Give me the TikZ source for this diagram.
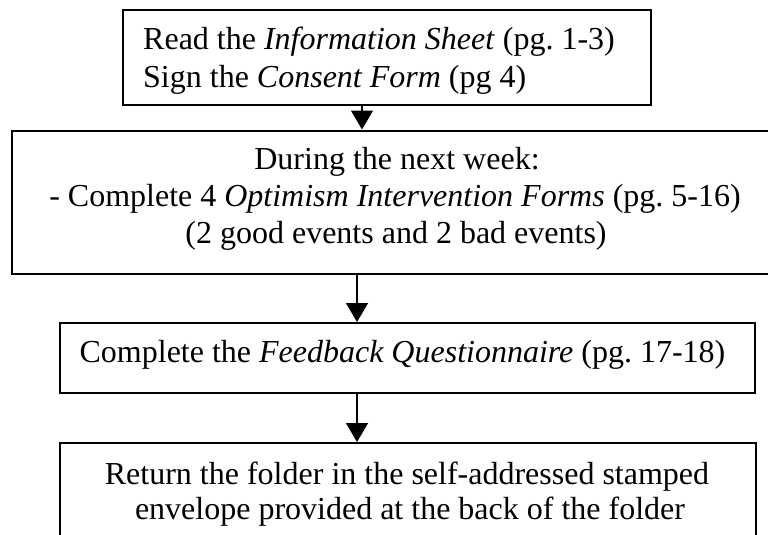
\documentclass[tikz,border=0pt]{standalone}
\usepackage{fontspec}
\setmainfont{Liberation Serif}
\frenchspacing
\usetikzlibrary{arrows.meta}
\tikzset{
  stepbox/.style={draw=black, line width=2pt, rectangle, inner sep=0pt},
  steptext/.style={inner sep=0pt, font=\fontsize{32}{37}\selectfont},
  flow/.style={draw=black, line width=1.3pt, -{Triangle[width=22pt,length=19pt]}}
}
\begin{document}
\begin{tikzpicture}[x=1pt,y=-1pt]
\useasboundingbox (0,0) rectangle (768,535);

% frames of the four steps (the second and fourth run past the page edge)
\node[stepbox, minimum width=528pt, minimum height=95pt] (b1) at (387,57.5) {};
\node[stepbox, minimum width=766pt, minimum height=143.5pt] (b2) at (395,202.25) {};
\node[stepbox, minimum width=695pt, minimum height=70pt] (b3) at (407.5,358) {};
\node[stepbox, minimum width=696pt, minimum height=117pt] (b4) at (408,501.5) {};

% step 1
\node[steptext, anchor=base west] (t1a) at (143,50) {Read the \textit{Information Sheet} (pg. 1-3)};
\node[steptext, anchor=base west] (t1b) at (143,87) {Sign the \textit{Consent Form} (pg 4)};

% step 2
\node[steptext, anchor=base] (t2a) at (397,169) {During the next week:};
\node[steptext, anchor=base] (t2b) at (395,206) {- Complete 4 \textit{Optimism Intervention Forms} (pg. 5-16)};
\node[steptext, anchor=base] (t2c) at (396,243) {(2 good events and 2 bad events)};

% step 3
\node[steptext, anchor=base] (t3) at (402.5,362) {Complete the \textit{Feedback Questionnaire} (pg. 17-18)};

% step 4
\node[steptext, anchor=base] (t4a) at (407,484) {Return the folder in the self-addressed stamped};
\node[steptext, anchor=base] (t4b) at (410,519) {envelope provided at the back of the folder};

% connectors
\coordinate (c1) at (362,0);
\coordinate (c2) at (357,0);
\draw[flow] (b1.south -| c1) -- (b2.north -| c1);
\draw[flow] (b2.south -| c2) -- (b3.north -| c2);
\draw[flow] (b3.south -| c2) -- (b4.north -| c2);
\end{tikzpicture}
\end{document}
